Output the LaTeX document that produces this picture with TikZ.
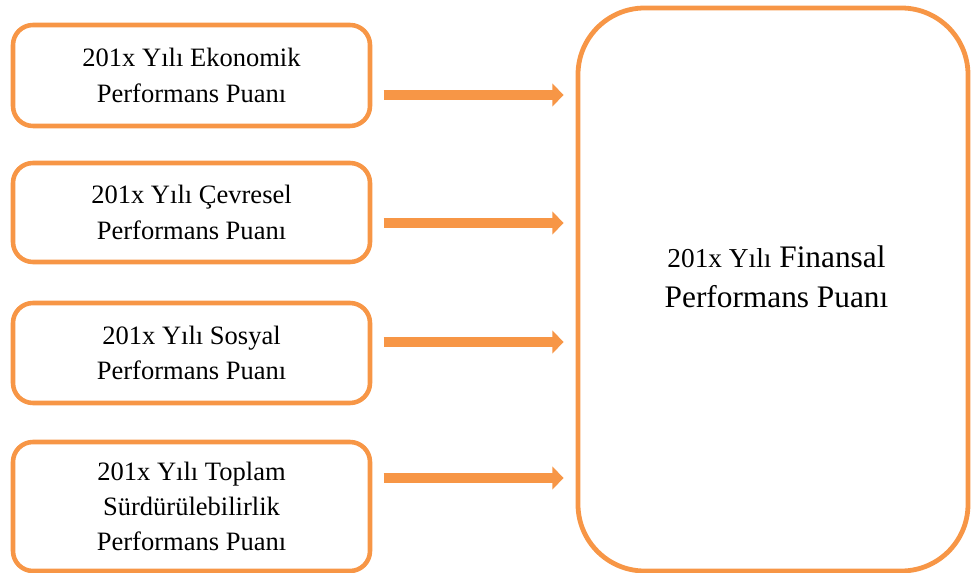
\documentclass[tikz,border=0pt]{standalone}
\usepackage{fontspec}
\setmainfont{Liberation Serif}
\usetikzlibrary{arrows.meta}
\definecolor{accent}{HTML}{F79646}
\tikzset{
  x=0.75pt, y=-0.75pt,
  smallbox/.style={draw=accent, line width=3.4pt, rounded corners=15pt,
    align=center, inner sep=0pt, minimum width=267.75pt,
    font=\fontsize{19.9}{26.5}\selectfont},
  bigbox/.style={draw=accent, line width=3.6pt, rounded corners=50pt,
    inner sep=0pt, minimum width=292.5pt, minimum height=422.25pt},
  bigtext/.style={align=center, inner sep=0pt, font=\fontsize{23.5}{30}\selectfont},
  flow/.style={draw=accent, line width=7.8pt, shorten <=8.5pt, shorten >=9pt,
    -{Triangle[length=8.5pt, width=17pt]}}
}
\begin{document}
\begin{tikzpicture}
\useasboundingbox (0,0) rectangle (971,573);
% input boxes
\node[smallbox, minimum height=75.75pt] (b1) at (191.5,75.5)
  {201x Yılı Ekonomik\\Performans Puanı};
\node[smallbox, minimum height=74.25pt] (b2) at (191.5,212.5)
  {201x Yılı Çevresel\\Performans Puanı};
\node[smallbox, minimum height=75pt] (b3) at (191.5,353)
  {201x Yılı Sosyal\\Performans Puanı};
\node[smallbox, minimum height=96.75pt] (b4) at (191.5,506.5)
  {201x Yılı Toplam\\Sürdürülebilirlik\\Performans Puanı};
% result box
\node[bigbox] (big) at (773,289.5) {};
\node[bigtext] (bt) at (776.5,277)
  {{\fontsize{20.5}{30}\selectfont 201x Yılı} Finansal\\Performans Puanı};
% arrow heights
\coordinate (h1) at (0,95);
\coordinate (h2) at (0,223);
\coordinate (h3) at (0,342);
\coordinate (h4) at (0,478);
\draw[flow] (b1.east |- h1) -- (big.west |- h1);
\draw[flow] (b2.east |- h2) -- (big.west |- h2);
\draw[flow] (b3.east |- h3) -- (big.west |- h3);
\draw[flow] (b4.east |- h4) -- (big.west |- h4);
\end{tikzpicture}
\end{document}
